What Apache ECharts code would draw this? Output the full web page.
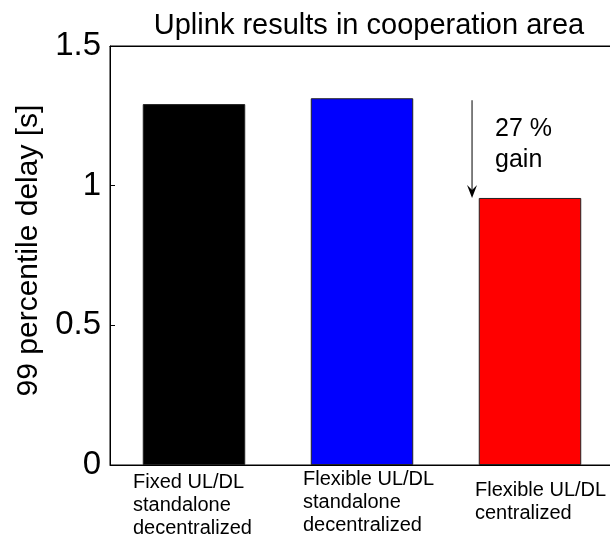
<!DOCTYPE html>
<html>
<head>
<meta charset="utf-8">
<script src="https://cdn.jsdelivr.net/npm/echarts@6/dist/echarts.min.js"></script>
<style>
  html, body { margin: 0; padding: 0; background: #fff; }
  #main { width: 610px; height: 546px; }
</style>
</head>
<body>
<div id="main"></div>
<script>
// chart data
var categories = [
  'Fixed UL/DL\nstandalone\ndecentralized',
  'Flexible UL/DL\nstandalone\ndecentralized',
  'Flexible UL/DL\ncentralized'
];
var delays = [1.292, 1.313, 0.956];
var barColors = ['#000000', '#0000ff', '#ff0000'];
var yTicks = [0, 0.5, 1, 1.5];
var gainText = '27 %\ngain';

var font = 'Liberation Sans, Arial, Helvetica, sans-serif';
// small per-label shifts, the labels in the source are placed by hand
var labelPad = [[6, 0, 0, 18], [3, 0, 0, 22], [14, 0, 0, 30]];

var myChart = echarts.init(document.getElementById('main'));

var option = {
  animation: false,
  title: {
    text: 'Uplink results in cooperation area',
    left: 364,
    top: 6,
    textAlign: 'center',
    textStyle: { fontFamily: font, fontSize: 29, fontWeight: 'normal', color: '#000' }
  },
  grid: {
    left: 110, top: 46, bottom: 81, width: 504,
    outerBoundsMode: 'none',
    containLabel: false,
    show: true, borderColor: '#000', borderWidth: 1
  },
  xAxis: [
    {
      type: 'category',
      data: categories.map(function (c, i) {
        return { value: c, textStyle: { padding: labelPad[i] } };
      }),
      axisLine: { lineStyle: { color: '#000' } },
      axisTick: { inside: true, alignWithLabel: true, length: 5, lineStyle: { color: '#000' } },
      axisLabel: {
        margin: 0,
        interval: 0,
        fontFamily: font,
        fontSize: 20,
        color: '#000',
        formatter: function (v) {
          return v.split('\n').map(function (s) { return '{l|' + s + '}'; }).join('\n');
        },
        rich: { l: { width: 140, align: 'left', lineHeight: 23, fontSize: 20, fontFamily: font } }
      }
    },
    {
      type: 'category',
      position: 'top',
      data: categories,
      axisLine: { lineStyle: { color: '#000' } },
      axisTick: {
        inside: true, alignWithLabel: true, length: 5,
        interval: function (i) { return i === 0; },
        lineStyle: { color: '#000' }
      },
      axisLabel: { show: false }
    }
  ],
  yAxis: {
    type: 'value',
    min: yTicks[0],
    max: yTicks[yTicks.length - 1],
    interval: 0.5,
    name: '99 percentile delay [s]',
    nameLocation: 'middle',
    nameRotate: 90,
    nameGap: 54,
    nameTextStyle: { fontFamily: font, fontSize: 30, color: '#000', padding: [0, 0, 0, 10] },
    splitLine: { show: false },
    axisLine: { show: true, lineStyle: { color: '#000' } },
    axisTick: { show: true, inside: true, length: 5, lineStyle: { color: '#000' } },
    axisLabel: { margin: 9, fontFamily: font, fontSize: 33, color: '#000' }
  },
  series: [{
    type: 'bar',
    barCategoryGap: '39%',
    data: delays.map(function (v, i) {
      return { value: v, itemStyle: { color: barColors[i] } };
    }),
    itemStyle: { borderColor: '#222', borderWidth: 1 }
  }]
};

myChart.setOption(option);

// arrow from the flexible standalone level down to the centralized bar
var p1 = myChart.convertToPixel({ xAxisIndex: 0, yAxisIndex: 0 }, [1, delays[1]]);
var p2 = myChart.convertToPixel({ xAxisIndex: 0, yAxisIndex: 0 }, [2, delays[2]]);
var ax = p1[0] + (p2[0] - p1[0]) * 0.655;
var topY = p1[1] + 2;
var tipY = p2[1];

myChart.setOption({
  graphic: [
    {
      type: 'line',
      shape: { x1: ax, y1: topY, x2: ax, y2: tipY - 6 },
      style: { stroke: '#000', lineWidth: 1 }
    },
    {
      type: 'polygon',
      shape: { points: [[ax, tipY], [ax - 5, tipY - 13], [ax, tipY - 8], [ax + 5, tipY - 13]] },
      style: { fill: '#000' }
    },
    {
      type: 'text',
      x: ax + 23,
      y: topY + 13,
      style: {
        text: gainText,
        fontFamily: font,
        fontSize: 25,
        lineHeight: 31,
        fill: '#000'
      }
    }
  ]
});
</script>
</body>
</html>
